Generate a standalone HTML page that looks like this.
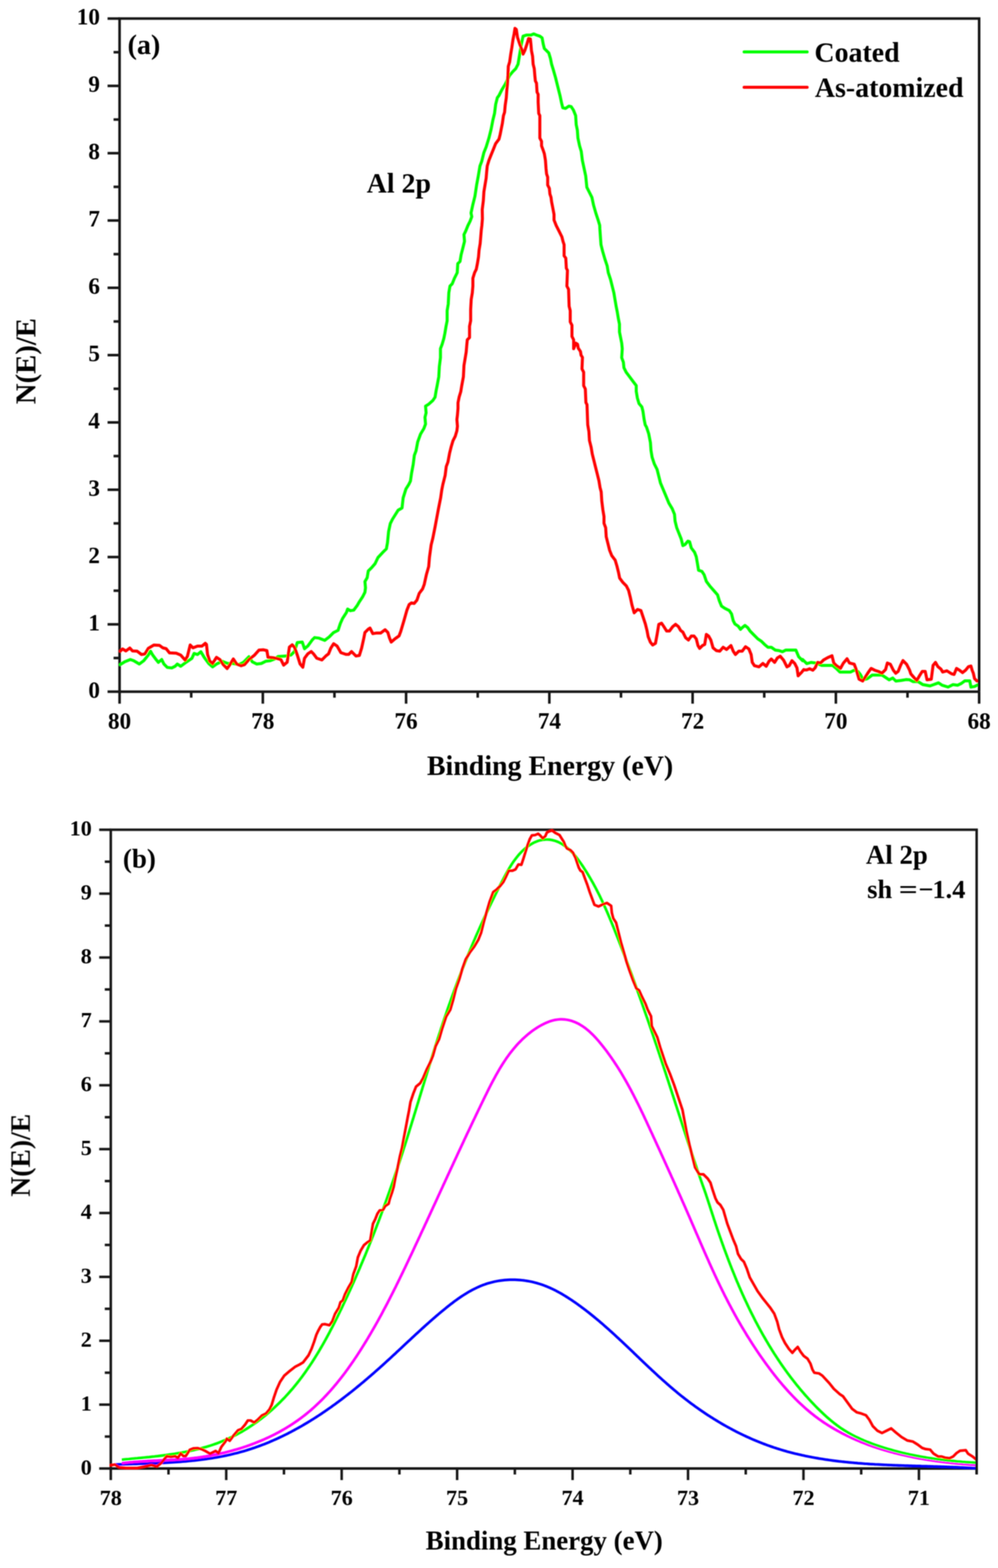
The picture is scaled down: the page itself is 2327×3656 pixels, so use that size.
<!DOCTYPE html><html><head><meta charset="utf-8"><title>Al 2p XPS spectra</title><style>html,body{margin:0;padding:0;background:#fff;}svg{display:block;}</style></head><body>
<svg width="2327" height="3656" viewBox="0 0 2327 3656" font-family="'Liberation Serif', 'Times New Roman', Times, serif" font-weight="bold">
<defs><filter id="soft" x="0" y="0" width="2327" height="3656" filterUnits="userSpaceOnUse"><feGaussianBlur stdDeviation="1.0"/></filter>
<clipPath id="ca"><rect x="270" y="0" width="2013" height="1700"/></clipPath>
<clipPath id="cb"><rect x="250" y="1900" width="2027.2" height="1600"/></clipPath></defs>
<rect width="2327" height="3656" fill="#fff"/>
<g filter="url(#soft)">
<path d="M278.8,1612.7 L278.8,43.3 L2283,43.3" fill="none" stroke="#181818" stroke-width="6.0" stroke-linejoin="miter" stroke-linecap="square"/>
<line x1="278.8" y1="1612.7" x2="2283" y2="1612.7" stroke="#181818" stroke-width="6.0"/>
<line x1="278.80" y1="1612.7" x2="278.80" y2="1640.7" stroke="#181818" stroke-width="6.0"/>
<text x="278.80" y="1698.8" font-size="54" text-anchor="middle">80</text>
<line x1="445.82" y1="1612.7" x2="445.82" y2="1626.7" stroke="#181818" stroke-width="6.0"/>
<line x1="612.83" y1="1612.7" x2="612.83" y2="1640.7" stroke="#181818" stroke-width="6.0"/>
<text x="612.83" y="1698.8" font-size="54" text-anchor="middle">78</text>
<line x1="779.85" y1="1612.7" x2="779.85" y2="1626.7" stroke="#181818" stroke-width="6.0"/>
<line x1="946.87" y1="1612.7" x2="946.87" y2="1640.7" stroke="#181818" stroke-width="6.0"/>
<text x="946.87" y="1698.8" font-size="54" text-anchor="middle">76</text>
<line x1="1113.88" y1="1612.7" x2="1113.88" y2="1626.7" stroke="#181818" stroke-width="6.0"/>
<line x1="1280.90" y1="1612.7" x2="1280.90" y2="1640.7" stroke="#181818" stroke-width="6.0"/>
<text x="1280.90" y="1698.8" font-size="54" text-anchor="middle">74</text>
<line x1="1447.92" y1="1612.7" x2="1447.92" y2="1626.7" stroke="#181818" stroke-width="6.0"/>
<line x1="1614.93" y1="1612.7" x2="1614.93" y2="1640.7" stroke="#181818" stroke-width="6.0"/>
<text x="1614.93" y="1698.8" font-size="54" text-anchor="middle">72</text>
<line x1="1781.95" y1="1612.7" x2="1781.95" y2="1626.7" stroke="#181818" stroke-width="6.0"/>
<line x1="1948.97" y1="1612.7" x2="1948.97" y2="1640.7" stroke="#181818" stroke-width="6.0"/>
<text x="1948.97" y="1698.8" font-size="54" text-anchor="middle">70</text>
<line x1="2115.98" y1="1612.7" x2="2115.98" y2="1626.7" stroke="#181818" stroke-width="6.0"/>
<line x1="2283.00" y1="1612.7" x2="2283.00" y2="1640.7" stroke="#181818" stroke-width="6.0"/>
<text x="2283.00" y="1698.8" font-size="54" text-anchor="middle">68</text>
<line x1="250.8" y1="1612.70" x2="278.8" y2="1612.70" stroke="#181818" stroke-width="6.0"/>
<text x="233" y="1626.70" font-size="54" text-anchor="end">0</text>
<line x1="264.8" y1="1534.23" x2="278.8" y2="1534.23" stroke="#181818" stroke-width="6.0"/>
<line x1="250.8" y1="1455.76" x2="278.8" y2="1455.76" stroke="#181818" stroke-width="6.0"/>
<text x="233" y="1469.76" font-size="54" text-anchor="end">1</text>
<line x1="264.8" y1="1377.29" x2="278.8" y2="1377.29" stroke="#181818" stroke-width="6.0"/>
<line x1="250.8" y1="1298.82" x2="278.8" y2="1298.82" stroke="#181818" stroke-width="6.0"/>
<text x="233" y="1312.82" font-size="54" text-anchor="end">2</text>
<line x1="264.8" y1="1220.35" x2="278.8" y2="1220.35" stroke="#181818" stroke-width="6.0"/>
<line x1="250.8" y1="1141.88" x2="278.8" y2="1141.88" stroke="#181818" stroke-width="6.0"/>
<text x="233" y="1155.88" font-size="54" text-anchor="end">3</text>
<line x1="264.8" y1="1063.41" x2="278.8" y2="1063.41" stroke="#181818" stroke-width="6.0"/>
<line x1="250.8" y1="984.94" x2="278.8" y2="984.94" stroke="#181818" stroke-width="6.0"/>
<text x="233" y="998.94" font-size="54" text-anchor="end">4</text>
<line x1="264.8" y1="906.47" x2="278.8" y2="906.47" stroke="#181818" stroke-width="6.0"/>
<line x1="250.8" y1="828.00" x2="278.8" y2="828.00" stroke="#181818" stroke-width="6.0"/>
<text x="233" y="842.00" font-size="54" text-anchor="end">5</text>
<line x1="264.8" y1="749.53" x2="278.8" y2="749.53" stroke="#181818" stroke-width="6.0"/>
<line x1="250.8" y1="671.06" x2="278.8" y2="671.06" stroke="#181818" stroke-width="6.0"/>
<text x="233" y="685.06" font-size="54" text-anchor="end">6</text>
<line x1="264.8" y1="592.59" x2="278.8" y2="592.59" stroke="#181818" stroke-width="6.0"/>
<line x1="250.8" y1="514.12" x2="278.8" y2="514.12" stroke="#181818" stroke-width="6.0"/>
<text x="233" y="528.12" font-size="54" text-anchor="end">7</text>
<line x1="264.8" y1="435.65" x2="278.8" y2="435.65" stroke="#181818" stroke-width="6.0"/>
<line x1="250.8" y1="357.18" x2="278.8" y2="357.18" stroke="#181818" stroke-width="6.0"/>
<text x="233" y="371.18" font-size="54" text-anchor="end">8</text>
<line x1="264.8" y1="278.71" x2="278.8" y2="278.71" stroke="#181818" stroke-width="6.0"/>
<line x1="250.8" y1="200.24" x2="278.8" y2="200.24" stroke="#181818" stroke-width="6.0"/>
<text x="233" y="214.24" font-size="54" text-anchor="end">9</text>
<line x1="264.8" y1="121.77" x2="278.8" y2="121.77" stroke="#181818" stroke-width="6.0"/>
<line x1="250.8" y1="43.30" x2="278.8" y2="43.30" stroke="#181818" stroke-width="6.0"/>
<text x="233" y="57.30" font-size="54" text-anchor="end">10</text>
<g clip-path="url(#ca)">
<path d="M280.4,1549.6 290.9,1543.1 303.9,1537.8 311.7,1540.5 324.8,1548.3 335.2,1540.5 345.7,1527.4 350.9,1518.3 356.1,1527.4 363.9,1537.8 369.2,1544.4 377.0,1537.8 382.2,1548.3 390.0,1556.1 400.5,1557.4 408.3,1553.5 413.5,1548.3 421.3,1553.5 431.8,1545.7 447.4,1535.2 452.6,1523.5 460.5,1526.1 468.3,1519.6 476.1,1532.6 486.6,1547.0 495.7,1554.8 504.8,1548.3 517.9,1541.8 524.4,1544.4 530.9,1547.0 544.0,1547.0 557.0,1549.6 567.5,1544.4 580.5,1531.3 588.3,1543.1 598.8,1548.3 609.2,1547.0 619.6,1541.8 630.1,1540.5 640.5,1536.5 648.3,1530.8 668.3,1529.6 678.7,1527.0 686.5,1519.2 693.1,1498.3 704.8,1497.0 710.0,1512.7 717.8,1506.1 728.3,1491.8 733.5,1486.6 743.9,1487.9 757.0,1493.1 767.4,1485.3 777.9,1474.8 788.3,1469.6 793.5,1453.9 798.7,1442.2 807.9,1427.9 810.5,1420.0 817.0,1423.9 824.8,1422.6 832.6,1412.2 837.9,1403.1 845.7,1391.3 850.9,1380.9 852.2,1370.5 850.9,1356.1 856.1,1347.0 858.7,1331.3 866.6,1323.5 874.4,1314.4 881.3,1300.0 891.7,1288.8 900.9,1279.6 903.5,1265.3 906.1,1239.2 910.0,1220.9 915.2,1210.5 928.3,1189.6 937.4,1184.4 940.0,1160.9 946.5,1140.1 953.1,1129.6 957.0,1121.8 959.6,1103.5 963.5,1082.6 966.1,1061.8 970.0,1051.3 973.9,1030.5 980.5,1012.2 988.3,999.2 992.2,988.7 990.9,973.1 993.5,962.6 992.2,947.0 998.7,943.1 1009.2,933.9 1014.4,926.1 1017.0,910.4 1019.1,900.0 1023.1,878.3 1024.4,854.9 1027.0,834.0 1027.0,813.1 1030.9,802.7 1034.8,789.6 1037.4,776.6 1040.0,760.9 1042.6,747.9 1042.6,724.4 1045.2,708.7 1046.5,682.6 1049.2,667.0 1054.4,661.8 1059.6,648.7 1066.1,635.7 1067.4,614.8 1072.6,609.6 1075.2,593.9 1079.2,578.3 1083.1,562.6 1081.8,547.0 1085.7,539.1 1090.9,526.1 1096.1,515.7 1100.0,505.2 1098.3,496.6 1102.2,478.4 1107.4,457.5 1111.3,431.4 1115.2,410.5 1119.1,387.0 1123.1,376.6 1128.3,355.7 1133.5,342.7 1140.0,321.8 1145.2,300.9 1149.2,280.1 1153.1,264.4 1155.7,243.5 1159.6,227.9 1163.5,222.6 1170.0,209.6 1177.9,196.6 1183.1,186.1 1188.3,175.7 1194.8,167.9 1202.6,160.0 1207.9,149.6 1210.5,133.9 1213.1,118.3 1215.7,102.6 1219.6,84.4 1227.4,81.7 1237.9,81.7 1244.4,79.1 1250.9,81.7 1258.7,84.4 1264.0,88.3 1266.6,102.6 1269.2,113.1 1274.4,118.3 1279.6,123.5 1283.5,136.5 1286.1,149.6 1290.1,162.6 1295.3,180.9 1300.5,201.8 1305.7,222.6 1309.6,240.9 1312.2,251.4 1318.8,252.7 1326.6,247.4 1331.8,248.7 1337.0,256.6 1342.2,269.6 1343.5,290.5 1346.2,303.5 1347.5,321.8 1351.4,340.1 1355.3,353.1 1357.9,374.0 1361.8,392.3 1365.7,410.5 1368.3,436.6 1373.5,447.0 1380.1,460.1 1384.0,478.4 1389.2,496.6 1394.4,512.3 1398.3,525.3 1398.7,533.9 1400.0,552.2 1401.3,570.5 1405.2,586.1 1410.5,604.4 1415.7,620.0 1418.3,635.7 1423.5,651.3 1427.4,667.0 1431.3,682.6 1433.9,698.3 1436.6,714.0 1439.2,727.0 1441.8,742.7 1444.4,755.7 1444.4,774.0 1447.0,787.0 1449.6,800.1 1450.9,813.1 1449.6,834.0 1453.5,844.4 1454.8,857.5 1460.0,867.9 1467.9,878.3 1475.7,888.8 1483.5,899.2 1483.5,912.3 1486.1,927.9 1490.0,941.0 1496.6,948.8 1499.2,959.2 1501.8,977.5 1504.4,990.5 1507.4,995.7 1512.6,1011.3 1516.6,1032.2 1517.9,1050.5 1520.5,1066.1 1525.7,1081.8 1532.2,1094.8 1536.1,1110.5 1540.0,1126.1 1546.6,1141.8 1553.1,1157.4 1559.6,1173.1 1567.4,1186.1 1572.7,1199.2 1574.0,1214.8 1577.9,1230.5 1583.1,1243.5 1588.3,1256.6 1592.2,1272.2 1597.4,1269.6 1604.0,1261.8 1607.9,1263.1 1611.8,1277.5 1619.6,1287.9 1623.5,1298.3 1626.2,1314.0 1628.8,1329.6 1636.6,1332.3 1641.8,1340.1 1647.0,1355.7 1654.9,1366.2 1664.0,1376.6 1673.1,1387.0 1677.0,1400.1 1682.3,1413.1 1690.1,1418.4 1700.5,1423.6 1705.7,1431.4 1709.6,1447.1 1713.6,1454.9 1721.4,1460.1 1726.6,1467.4 1730.5,1463.5 1737.0,1458.3 1743.5,1463.5 1748.8,1471.3 1756.6,1479.2 1767.0,1489.6 1774.8,1494.8 1782.7,1502.6 1790.5,1509.2 1798.3,1509.2 1807.5,1515.7 1816.6,1517.0 1824.4,1519.6 1832.3,1515.7 1845.3,1515.7 1855.7,1515.7 1862.3,1531.3 1871.4,1540.5 1871.2,1537.4 1881.0,1547.3 1890.9,1544.5 1902.1,1545.9 1916.1,1551.5 1930.1,1551.5 1941.3,1551.5 1949.8,1558.5 1958.2,1566.9 1972.2,1566.9 1983.4,1566.9 1991.8,1562.7 2000.2,1565.5 2005.9,1572.5 2012.9,1585.1 2022.7,1582.3 2033.9,1573.9 2045.1,1573.9 2056.3,1573.9 2064.8,1579.5 2073.2,1585.1 2081.6,1580.9 2088.6,1587.9 2101.2,1586.5 2112.4,1584.6 2120.9,1585.1 2129.3,1589.3 2140.5,1589.3 2151.7,1596.3 2160.1,1597.7 2168.5,1599.2 2177.0,1596.3 2188.2,1592.1 2196.6,1597.7 2210.6,1602.0 2221.8,1596.3 2233.1,1597.7 2241.5,1593.5 2249.9,1587.4 2261.1,1587.4 2263.9,1602.0 2272.3,1600.6 2280.7,1596.3 2283.5,1594.9" fill="none" stroke="#00ff00" stroke-width="7.0" stroke-linejoin="round" stroke-linecap="round"/>
<path d="M280.4,1518.3 285.7,1513.1 293.5,1517.8 302.6,1511.0 309.1,1517.8 319.6,1518.3 330.0,1526.1 337.8,1524.8 345.7,1511.8 358.7,1503.9 371.8,1504.7 379.6,1510.5 387.4,1512.5 395.2,1522.2 410.9,1523.0 421.3,1527.4 431.8,1539.2 437.0,1530.0 443.5,1503.9 450.0,1510.5 460.5,1506.5 470.9,1506.5 478.7,1500.0 481.4,1502.6 484.0,1526.1 489.2,1541.8 495.7,1547.0 504.8,1532.6 512.7,1537.8 520.5,1549.6 529.6,1558.7 536.1,1549.6 544.0,1536.5 551.8,1548.3 562.2,1552.2 570.1,1549.6 580.5,1537.8 593.5,1527.4 604.0,1515.7 614.4,1515.1 622.3,1517.0 624.9,1532.6 635.3,1533.4 645.7,1535.2 654.9,1537.8 661.4,1550.9 669.6,1544.0 674.8,1508.7 681.3,1503.5 686.5,1508.7 693.1,1527.0 699.6,1547.9 706.1,1555.7 710.0,1534.8 717.8,1524.4 725.7,1519.2 730.9,1524.4 738.7,1534.8 750.5,1538.7 759.6,1529.6 766.1,1524.4 771.3,1511.4 777.9,1500.9 785.7,1506.1 794.8,1521.8 806.6,1525.7 813.1,1525.7 819.6,1519.2 824.8,1524.4 830.0,1529.6 837.9,1528.3 843.1,1511.4 848.3,1487.9 850.9,1474.8 858.7,1467.0 862.7,1464.4 869.2,1477.4 877.0,1476.1 887.4,1476.1 897.9,1468.3 904.4,1474.8 908.3,1487.9 912.2,1497.0 921.4,1489.2 930.5,1482.6 934.4,1472.2 942.2,1446.1 948.8,1422.6 954.0,1409.6 959.2,1405.7 965.7,1407.0 972.2,1399.2 977.5,1383.5 985.3,1373.1 989.2,1362.6 994.4,1339.1 999.6,1320.9 1001.3,1300.0 1005.3,1270.5 1009.2,1254.9 1014.4,1228.8 1018.3,1207.9 1022.2,1187.0 1027.4,1160.9 1030.0,1142.7 1032.6,1129.6 1037.9,1108.7 1040.5,1087.9 1044.4,1077.4 1048.3,1056.6 1052.2,1040.9 1056.1,1027.9 1061.4,1017.4 1065.3,1004.4 1066.6,993.9 1065.3,978.3 1066.6,967.8 1067.9,952.2 1067.9,939.1 1070.5,926.1 1074.4,913.0 1076.5,900.0 1080.5,878.3 1081.8,852.3 1084.4,836.6 1087.0,820.9 1088.3,805.3 1089.6,792.2 1094.8,787.0 1094.8,760.9 1097.4,747.9 1097.4,721.8 1098.7,698.3 1101.3,682.6 1102.6,667.0 1102.6,648.7 1106.6,635.7 1110.5,627.9 1113.1,614.8 1115.7,599.2 1117.0,583.5 1119.6,567.8 1120.9,552.2 1122.2,536.5 1123.5,526.1 1124.8,510.4 1124.4,488.8 1127.0,467.9 1128.3,447.0 1130.9,431.4 1133.5,415.7 1134.8,400.1 1136.1,387.0 1140.0,374.0 1145.2,360.9 1150.5,347.9 1155.7,334.8 1163.5,324.4 1166.1,314.0 1168.7,300.9 1171.3,287.9 1173.9,269.6 1176.5,261.8 1177.9,246.1 1180.5,227.9 1181.8,209.6 1183.1,196.6 1184.4,175.7 1185.2,154.8 1188.3,144.4 1190.9,126.1 1193.5,110.5 1196.1,92.2 1198.7,79.1 1200.8,66.1 1203.9,68.7 1206.6,87.0 1211.8,102.6 1215.7,113.1 1219.6,126.1 1223.5,118.3 1228.7,102.6 1232.6,89.6 1236.6,90.9 1237.9,102.6 1239.2,118.3 1241.8,131.3 1243.1,149.6 1245.7,160.0 1247.0,175.7 1248.3,188.7 1250.9,193.9 1252.2,214.8 1254.8,220.0 1254.8,238.3 1256.1,264.4 1258.7,269.6 1258.7,287.9 1258.7,300.9 1258.7,321.8 1262.7,329.6 1262.7,340.1 1266.6,350.5 1269.2,358.3 1271.8,374.0 1273.1,392.3 1274.4,405.3 1277.0,413.1 1277.0,431.4 1280.9,439.2 1282.2,452.3 1284.8,460.1 1286.1,470.5 1288.7,483.6 1291.8,500.0 1291.8,513.0 1297.0,526.1 1303.6,539.1 1310.1,552.2 1312.7,562.6 1315.3,570.5 1315.3,596.5 1319.2,601.8 1320.5,625.2 1323.1,630.5 1321.8,667.0 1325.7,674.8 1327.0,714.0 1329.6,724.4 1329.6,750.5 1333.6,758.3 1333.6,784.4 1337.5,792.2 1337.5,813.1 1342.7,800.1 1346.6,802.7 1348.3,811.8 1353.5,819.6 1354.8,828.1 1358.1,833.3 1357.0,860.1 1360.9,867.9 1360.9,899.2 1364.8,907.0 1366.1,938.4 1368.7,943.6 1370.0,980.1 1370.4,990.4 1373.1,1006.1 1374.4,1027.0 1378.3,1042.6 1380.9,1058.3 1384.8,1073.9 1388.7,1089.6 1392.6,1105.2 1396.5,1120.9 1399.1,1136.6 1401.8,1147.0 1403.1,1167.9 1405.7,1188.7 1408.3,1204.4 1408.3,1220.1 1412.2,1230.5 1413.5,1251.4 1417.4,1267.0 1421.3,1282.7 1426.5,1295.7 1434.4,1306.2 1438.3,1319.2 1442.2,1334.9 1444.8,1347.9 1452.6,1358.3 1460.5,1366.2 1465.7,1376.6 1469.6,1392.3 1473.5,1410.5 1478.7,1428.8 1486.6,1421.0 1494.4,1423.6 1499.6,1439.2 1504.8,1454.9 1508.7,1470.5 1508.7,1470.5 1511.3,1484.4 1516.5,1497.4 1521.7,1503.9 1528.3,1500.0 1532.2,1479.2 1536.1,1455.7 1542.6,1453.1 1547.8,1460.9 1554.4,1471.3 1560.9,1471.3 1568.7,1460.9 1575.2,1455.7 1581.8,1460.9 1587.0,1470.0 1592.2,1473.9 1598.7,1487.0 1605.2,1492.2 1611.8,1483.1 1618.3,1483.1 1623.5,1489.6 1627.4,1505.2 1631.3,1511.8 1637.9,1505.2 1643.1,1502.6 1647.0,1479.2 1652.2,1483.1 1657.4,1492.2 1662.6,1510.5 1670.5,1517.0 1678.3,1518.3 1686.1,1509.2 1694.0,1514.4 1704.4,1505.2 1709.6,1518.3 1714.8,1526.1 1722.7,1518.3 1730.5,1518.3 1738.3,1507.9 1746.1,1513.1 1751.4,1526.1 1754.0,1544.4 1759.2,1552.2 1769.6,1554.8 1778.8,1547.0 1786.6,1553.5 1793.1,1541.8 1798.3,1536.6 1806.2,1544.4 1812.7,1533.9 1819.2,1530.0 1827.0,1539.2 1834.9,1554.8 1840.1,1552.2 1846.6,1540.5 1853.1,1547.0 1858.3,1557.4 1861.0,1575.7 1868.8,1567.9 1874.0,1561.3 1874.0,1562.1 1881.0,1562.1 1888.0,1559.3 1895.1,1562.7 1900.7,1557.1 1906.3,1544.5 1913.3,1545.9 1920.3,1538.8 1930.1,1533.2 1939.9,1529.0 1944.1,1545.9 1949.8,1551.5 1959.6,1558.5 1966.6,1545.9 1975.0,1536.0 1980.6,1545.9 1991.8,1548.7 1996.0,1559.9 2000.2,1573.9 2003.1,1583.7 2011.5,1587.9 2017.1,1579.5 2024.1,1568.3 2031.1,1558.5 2039.5,1562.7 2047.9,1565.5 2056.3,1569.7 2064.8,1561.3 2069.0,1545.9 2076.0,1548.7 2083.0,1562.7 2088.6,1569.7 2094.2,1565.5 2099.8,1551.5 2105.4,1540.2 2113.8,1548.7 2120.9,1562.7 2123.7,1571.1 2132.1,1580.9 2137.7,1586.5 2143.3,1576.7 2150.3,1565.5 2157.3,1565.5 2161.5,1585.1 2171.4,1583.7 2175.6,1551.5 2181.2,1544.5 2186.8,1554.3 2193.8,1559.9 2198.0,1566.9 2207.8,1564.1 2219.0,1571.1 2224.6,1572.5 2230.3,1558.5 2237.3,1562.7 2244.3,1568.3 2251.3,1562.7 2258.3,1554.3 2263.9,1552.9 2266.7,1562.7 2269.5,1569.7 2272.3,1582.3 2277.9,1587.9 2283.5,1586.5" fill="none" stroke="#ff0000" stroke-width="7.0" stroke-linejoin="round" stroke-linecap="round"/>
</g>
<line x1="2283" y1="43.3" x2="2283" y2="1612.7" stroke="#181818" stroke-width="6.0" stroke-linecap="butt"/>
<text x="1282.6" text-anchor="middle" y="1806.5" font-size="65">Binding Energy (eV)</text>
<text transform="translate(82.5,842) rotate(-90)" font-size="67" text-anchor="middle">N(E)/E</text>
<text x="297.5" y="126" font-size="65.5">(a)</text>
<text x="855" y="449" font-size="65">Al 2p</text>
<line x1="1735" y1="121" x2="1882" y2="121" stroke="#00ff00" stroke-width="7.0" stroke-linecap="round"/>
<line x1="1735" y1="203.5" x2="1882" y2="203.5" stroke="#ff0000" stroke-width="7.0" stroke-linecap="round"/>
<text x="1899" y="144" font-size="65">Coated</text>
<text x="1900" y="226" font-size="65">As-atomized</text>
<path d="M258.3,3424 L258.3,1934.7 L2277.2,1934.7" fill="none" stroke="#181818" stroke-width="5.8" stroke-linejoin="miter" stroke-linecap="square"/>
<line x1="258.3" y1="3424" x2="2277.2" y2="3424" stroke="#181818" stroke-width="5.8"/>
<line x1="258.30" y1="3424" x2="258.30" y2="3451" stroke="#181818" stroke-width="5.8"/>
<text x="258.30" y="3508.8" font-size="51.5" text-anchor="middle">78</text>
<line x1="392.89" y1="3424" x2="392.89" y2="3438" stroke="#181818" stroke-width="5.8"/>
<line x1="527.49" y1="3424" x2="527.49" y2="3451" stroke="#181818" stroke-width="5.8"/>
<text x="527.49" y="3508.8" font-size="51.5" text-anchor="middle">77</text>
<line x1="662.08" y1="3424" x2="662.08" y2="3438" stroke="#181818" stroke-width="5.8"/>
<line x1="796.67" y1="3424" x2="796.67" y2="3451" stroke="#181818" stroke-width="5.8"/>
<text x="796.67" y="3508.8" font-size="51.5" text-anchor="middle">76</text>
<line x1="931.27" y1="3424" x2="931.27" y2="3438" stroke="#181818" stroke-width="5.8"/>
<line x1="1065.86" y1="3424" x2="1065.86" y2="3451" stroke="#181818" stroke-width="5.8"/>
<text x="1065.86" y="3508.8" font-size="51.5" text-anchor="middle">75</text>
<line x1="1200.45" y1="3424" x2="1200.45" y2="3438" stroke="#181818" stroke-width="5.8"/>
<line x1="1335.05" y1="3424" x2="1335.05" y2="3451" stroke="#181818" stroke-width="5.8"/>
<text x="1335.05" y="3508.8" font-size="51.5" text-anchor="middle">74</text>
<line x1="1469.64" y1="3424" x2="1469.64" y2="3438" stroke="#181818" stroke-width="5.8"/>
<line x1="1604.23" y1="3424" x2="1604.23" y2="3451" stroke="#181818" stroke-width="5.8"/>
<text x="1604.23" y="3508.8" font-size="51.5" text-anchor="middle">73</text>
<line x1="1738.83" y1="3424" x2="1738.83" y2="3438" stroke="#181818" stroke-width="5.8"/>
<line x1="1873.42" y1="3424" x2="1873.42" y2="3451" stroke="#181818" stroke-width="5.8"/>
<text x="1873.42" y="3508.8" font-size="51.5" text-anchor="middle">72</text>
<line x1="2008.01" y1="3424" x2="2008.01" y2="3438" stroke="#181818" stroke-width="5.8"/>
<line x1="2142.61" y1="3424" x2="2142.61" y2="3451" stroke="#181818" stroke-width="5.8"/>
<text x="2142.61" y="3508.8" font-size="51.5" text-anchor="middle">71</text>
<line x1="2277.20" y1="3424" x2="2277.20" y2="3438" stroke="#181818" stroke-width="5.8"/>
<line x1="231.3" y1="3424.00" x2="258.3" y2="3424.00" stroke="#181818" stroke-width="5.8"/>
<text x="214" y="3437.50" font-size="51.5" text-anchor="end">0</text>
<line x1="244.3" y1="3349.53" x2="258.3" y2="3349.53" stroke="#181818" stroke-width="5.8"/>
<line x1="231.3" y1="3275.07" x2="258.3" y2="3275.07" stroke="#181818" stroke-width="5.8"/>
<text x="214" y="3288.57" font-size="51.5" text-anchor="end">1</text>
<line x1="244.3" y1="3200.61" x2="258.3" y2="3200.61" stroke="#181818" stroke-width="5.8"/>
<line x1="231.3" y1="3126.14" x2="258.3" y2="3126.14" stroke="#181818" stroke-width="5.8"/>
<text x="214" y="3139.64" font-size="51.5" text-anchor="end">2</text>
<line x1="244.3" y1="3051.68" x2="258.3" y2="3051.68" stroke="#181818" stroke-width="5.8"/>
<line x1="231.3" y1="2977.21" x2="258.3" y2="2977.21" stroke="#181818" stroke-width="5.8"/>
<text x="214" y="2990.71" font-size="51.5" text-anchor="end">3</text>
<line x1="244.3" y1="2902.74" x2="258.3" y2="2902.74" stroke="#181818" stroke-width="5.8"/>
<line x1="231.3" y1="2828.28" x2="258.3" y2="2828.28" stroke="#181818" stroke-width="5.8"/>
<text x="214" y="2841.78" font-size="51.5" text-anchor="end">4</text>
<line x1="244.3" y1="2753.82" x2="258.3" y2="2753.82" stroke="#181818" stroke-width="5.8"/>
<line x1="231.3" y1="2679.35" x2="258.3" y2="2679.35" stroke="#181818" stroke-width="5.8"/>
<text x="214" y="2692.85" font-size="51.5" text-anchor="end">5</text>
<line x1="244.3" y1="2604.89" x2="258.3" y2="2604.89" stroke="#181818" stroke-width="5.8"/>
<line x1="231.3" y1="2530.42" x2="258.3" y2="2530.42" stroke="#181818" stroke-width="5.8"/>
<text x="214" y="2543.92" font-size="51.5" text-anchor="end">6</text>
<line x1="244.3" y1="2455.95" x2="258.3" y2="2455.95" stroke="#181818" stroke-width="5.8"/>
<line x1="231.3" y1="2381.49" x2="258.3" y2="2381.49" stroke="#181818" stroke-width="5.8"/>
<text x="214" y="2394.99" font-size="51.5" text-anchor="end">7</text>
<line x1="244.3" y1="2307.03" x2="258.3" y2="2307.03" stroke="#181818" stroke-width="5.8"/>
<line x1="231.3" y1="2232.56" x2="258.3" y2="2232.56" stroke="#181818" stroke-width="5.8"/>
<text x="214" y="2246.06" font-size="51.5" text-anchor="end">8</text>
<line x1="244.3" y1="2158.10" x2="258.3" y2="2158.10" stroke="#181818" stroke-width="5.8"/>
<line x1="231.3" y1="2083.63" x2="258.3" y2="2083.63" stroke="#181818" stroke-width="5.8"/>
<text x="214" y="2097.13" font-size="51.5" text-anchor="end">9</text>
<line x1="244.3" y1="2009.17" x2="258.3" y2="2009.17" stroke="#181818" stroke-width="5.8"/>
<line x1="231.3" y1="1934.70" x2="258.3" y2="1934.70" stroke="#181818" stroke-width="5.8"/>
<text x="214" y="1948.20" font-size="51.5" text-anchor="end">10</text>
<g clip-path="url(#cb)">
<path d="M269.8,3414.7 273.7,3414.5 277.7,3414.4 281.7,3414.3 285.7,3414.2 289.7,3414.1 293.7,3414.0 297.7,3413.8 301.7,3413.7 305.7,3413.6 309.7,3413.5 313.7,3413.4 317.7,3413.3 321.6,3413.2 325.6,3413.0 329.6,3412.9 333.6,3412.8 337.6,3412.7 341.6,3412.5 345.6,3412.4 349.6,3412.2 353.6,3412.1 357.6,3411.9 361.6,3411.8 365.5,3411.6 369.5,3411.4 373.5,3411.2 377.5,3411.0 381.5,3410.8 385.5,3410.6 389.5,3410.4 393.5,3410.2 397.5,3409.9 401.4,3409.7 405.4,3409.4 409.4,3409.2 413.4,3408.9 417.4,3408.6 421.4,3408.3 425.3,3408.0 429.3,3407.6 433.3,3407.3 437.3,3406.9 441.2,3406.5 445.2,3406.1 449.2,3405.7 453.2,3405.3 457.1,3404.9 461.1,3404.4 465.1,3403.9 469.0,3403.4 473.0,3402.9 477.0,3402.4 480.9,3401.9 484.9,3401.3 488.8,3400.7 492.8,3400.1 496.7,3399.5 500.6,3398.8 504.6,3398.1 508.5,3397.4 512.4,3396.7 516.4,3396.0 520.3,3395.2 524.2,3394.4 528.1,3393.6 532.0,3392.8 535.9,3391.9 539.8,3391.0 543.7,3390.1 547.6,3389.1 551.4,3388.2 555.3,3387.2 559.2,3386.1 563.0,3385.1 566.9,3384.0 570.7,3382.9 574.5,3381.7 578.3,3380.5 582.1,3379.3 585.9,3378.1 589.7,3376.8 593.5,3375.6 597.3,3374.2 601.0,3372.9 604.8,3371.5 608.5,3370.1 612.3,3368.7 616.0,3367.3 619.7,3365.8 623.4,3364.3 627.1,3362.8 630.8,3361.2 634.4,3359.6 638.1,3358.0 641.8,3356.4 645.4,3354.8 649.0,3353.1 652.6,3351.4 656.2,3349.7 659.8,3348.0 663.4,3346.2 667.0,3344.5 670.6,3342.7 674.1,3340.8 677.7,3339.0 681.2,3337.1 684.7,3335.3 688.2,3333.3 691.7,3331.4 695.2,3329.5 698.7,3327.5 702.2,3325.6 705.6,3323.6 709.1,3321.5 712.5,3319.5 716.0,3317.5 719.4,3315.4 722.8,3313.3 726.2,3311.2 729.6,3309.1 732.9,3307.0 736.3,3304.8 739.7,3302.6 743.0,3300.5 746.3,3298.3 749.7,3296.1 753.0,3293.8 756.3,3291.6 759.6,3289.3 762.9,3287.1 766.1,3284.8 769.4,3282.5 772.7,3280.2 775.9,3277.8 779.2,3275.5 782.4,3273.2 785.6,3270.8 788.8,3268.4 792.0,3266.0 795.2,3263.7 798.4,3261.2 801.6,3258.8 804.7,3256.4 807.9,3253.9 811.1,3251.5 814.2,3249.0 817.3,3246.6 820.5,3244.1 823.6,3241.6 826.7,3239.1 829.8,3236.6 832.9,3234.0 836.0,3231.5 839.1,3229.0 842.1,3226.4 845.2,3223.9 848.3,3221.3 851.3,3218.7 854.4,3216.1 857.4,3213.5 860.4,3210.9 863.5,3208.3 866.5,3205.7 869.5,3203.1 872.5,3200.5 875.5,3197.8 878.5,3195.2 881.5,3192.5 884.5,3189.9 887.4,3187.2 890.4,3184.6 893.4,3181.9 896.3,3179.2 899.3,3176.5 902.2,3173.8 905.2,3171.1 908.1,3168.4 911.1,3165.7 914.0,3163.0 916.9,3160.3 919.9,3157.6 922.8,3154.9 925.7,3152.1 928.6,3149.4 931.5,3146.7 934.5,3144.0 937.4,3141.2 940.3,3138.5 943.2,3135.8 946.1,3133.1 949.1,3130.3 952.0,3127.6 954.9,3124.9 957.8,3122.2 960.7,3119.4 963.7,3116.7 966.6,3114.0 969.5,3111.3 972.5,3108.6 975.4,3105.9 978.3,3103.2 981.3,3100.5 984.2,3097.8 987.2,3095.1 990.2,3092.4 993.1,3089.8 996.1,3087.1 999.1,3084.5 1002.1,3081.8 1005.1,3079.2 1008.1,3076.5 1011.1,3073.9 1014.1,3071.3 1017.1,3068.7 1020.2,3066.1 1023.2,3063.5 1026.3,3060.9 1029.3,3058.4 1032.4,3055.8 1035.5,3053.3 1038.6,3050.8 1041.7,3048.2 1044.8,3045.8 1047.9,3043.3 1051.1,3040.8 1054.3,3038.4 1057.4,3036.0 1060.7,3033.6 1063.9,3031.3 1067.1,3028.9 1070.4,3026.7 1073.7,3024.4 1077.0,3022.2 1080.4,3020.0 1083.7,3017.9 1087.1,3015.8 1090.6,3013.7 1094.0,3011.7 1097.5,3009.7 1101.0,3007.8 1104.5,3006.0 1108.1,3004.2 1111.7,3002.5 1115.3,3000.8 1119.0,2999.2 1122.7,2997.7 1126.4,2996.2 1130.2,2994.8 1133.9,2993.5 1137.7,2992.3 1141.6,2991.2 1145.4,2990.2 1149.3,2989.2 1153.2,2988.3 1157.1,2987.5 1161.0,2986.8 1165.0,2986.1 1168.9,2985.6 1172.9,2985.1 1176.9,2984.7 1180.8,2984.4 1184.8,2984.1 1188.8,2983.9 1192.8,2983.9 1196.8,2983.9 1200.8,2983.9 1204.8,2984.1 1208.8,2984.3 1212.8,2984.6 1216.7,2985.0 1220.7,2985.4 1224.7,2986.0 1228.6,2986.6 1232.5,2987.3 1236.5,2988.0 1240.4,2988.8 1244.3,2989.7 1248.1,2990.7 1252.0,2991.8 1255.8,2992.9 1259.6,2994.1 1263.4,2995.3 1267.2,2996.7 1270.9,2998.1 1274.6,2999.5 1278.3,3001.1 1282.0,3002.7 1285.6,3004.3 1289.2,3006.0 1292.8,3007.8 1296.4,3009.6 1299.9,3011.5 1303.4,3013.4 1306.9,3015.3 1310.4,3017.3 1313.8,3019.3 1317.2,3021.4 1320.6,3023.5 1324.0,3025.6 1327.4,3027.8 1330.7,3030.0 1334.0,3032.2 1337.3,3034.5 1340.6,3036.7 1343.9,3039.0 1347.1,3041.3 1350.4,3043.7 1353.6,3046.0 1356.8,3048.4 1360.0,3050.8 1363.2,3053.2 1366.4,3055.6 1369.5,3058.1 1372.7,3060.5 1375.8,3063.0 1378.9,3065.5 1382.0,3068.0 1385.1,3070.5 1388.2,3073.1 1391.3,3075.6 1394.3,3078.2 1397.4,3080.7 1400.4,3083.3 1403.5,3085.9 1406.5,3088.5 1409.5,3091.2 1412.5,3093.8 1415.5,3096.5 1418.5,3099.1 1421.4,3101.8 1424.4,3104.4 1427.4,3107.1 1430.3,3109.8 1433.3,3112.5 1436.2,3115.2 1439.1,3117.9 1442.1,3120.6 1445.0,3123.4 1447.9,3126.1 1450.8,3128.8 1453.7,3131.6 1456.6,3134.3 1459.5,3137.1 1462.4,3139.8 1465.3,3142.6 1468.2,3145.3 1471.1,3148.1 1474.0,3150.8 1476.9,3153.6 1479.8,3156.4 1482.6,3159.1 1485.5,3161.9 1488.4,3164.6 1491.3,3167.4 1494.2,3170.2 1497.1,3172.9 1500.0,3175.7 1502.9,3178.4 1505.8,3181.2 1508.7,3183.9 1511.6,3186.7 1514.5,3189.4 1517.4,3192.1 1520.3,3194.9 1523.2,3197.6 1526.1,3200.3 1529.1,3203.0 1532.0,3205.7 1534.9,3208.4 1537.9,3211.1 1540.9,3213.8 1543.8,3216.5 1546.8,3219.1 1549.8,3221.8 1552.8,3224.4 1555.8,3227.1 1558.8,3229.7 1561.8,3232.3 1564.8,3234.9 1567.9,3237.5 1570.9,3240.1 1574.0,3242.7 1577.0,3245.2 1580.1,3247.8 1583.2,3250.3 1586.3,3252.8 1589.4,3255.3 1592.6,3257.8 1595.7,3260.2 1598.8,3262.7 1602.0,3265.1 1605.2,3267.6 1608.4,3270.0 1611.6,3272.4 1614.8,3274.7 1618.0,3277.1 1621.2,3279.4 1624.5,3281.8 1627.7,3284.1 1631.0,3286.4 1634.3,3288.6 1637.6,3290.9 1640.9,3293.1 1644.2,3295.4 1647.5,3297.6 1650.9,3299.8 1654.2,3301.9 1657.6,3304.1 1661.0,3306.2 1664.3,3308.3 1667.7,3310.4 1671.2,3312.5 1674.6,3314.6 1678.0,3316.6 1681.4,3318.7 1684.9,3320.7 1688.4,3322.7 1691.8,3324.6 1695.3,3326.6 1698.8,3328.5 1702.3,3330.4 1705.8,3332.3 1709.4,3334.2 1712.9,3336.0 1716.5,3337.9 1720.0,3339.7 1723.6,3341.5 1727.2,3343.2 1730.8,3345.0 1734.4,3346.7 1738.0,3348.4 1741.6,3350.1 1745.2,3351.7 1748.9,3353.4 1752.5,3355.0 1756.2,3356.6 1759.9,3358.1 1763.5,3359.7 1767.2,3361.2 1770.9,3362.7 1774.7,3364.2 1778.4,3365.6 1782.1,3367.0 1785.8,3368.4 1789.6,3369.8 1793.4,3371.2 1797.1,3372.5 1800.9,3373.8 1804.7,3375.1 1808.5,3376.3 1812.3,3377.6 1816.1,3378.7 1819.9,3379.9 1823.7,3381.1 1827.6,3382.2 1831.4,3383.3 1835.2,3384.4 1839.1,3385.4 1843.0,3386.4 1846.8,3387.4 1850.7,3388.4 1854.6,3389.4 1858.5,3390.3 1862.3,3391.2 1866.2,3392.1 1870.1,3393.0 1874.0,3393.8 1877.9,3394.7 1881.9,3395.5 1885.8,3396.3 1889.7,3397.0 1893.6,3397.8 1897.5,3398.5 1901.5,3399.2 1905.4,3399.9 1909.3,3400.6 1913.3,3401.2 1917.2,3401.8 1921.2,3402.5 1925.1,3403.1 1929.1,3403.6 1933.0,3404.2 1937.0,3404.8 1940.9,3405.3 1944.9,3405.8 1948.9,3406.3 1952.8,3406.8 1956.8,3407.3 1960.8,3407.7 1964.7,3408.2 1968.7,3408.6 1972.7,3409.0 1976.6,3409.4 1980.6,3409.8 1984.6,3410.2 1988.6,3410.5 1992.5,3410.9 1996.5,3411.2 2000.5,3411.6 2004.5,3411.9 2008.5,3412.2 2012.4,3412.5 2016.4,3412.8 2020.4,3413.0 2024.4,3413.3 2028.4,3413.6 2032.4,3413.8 2036.4,3414.0 2040.3,3414.3 2044.3,3414.5 2048.3,3414.7 2052.3,3414.9 2056.3,3415.1 2060.3,3415.3 2064.3,3415.5 2068.3,3415.7 2072.3,3415.8 2076.2,3416.0 2080.2,3416.2 2084.2,3416.3 2088.2,3416.5 2092.2,3416.6 2096.2,3416.8 2100.2,3416.9 2104.2,3417.0 2108.2,3417.2 2112.2,3417.3 2116.2,3417.4 2120.1,3417.6 2124.1,3417.7 2128.1,3417.8 2132.1,3417.9 2136.1,3418.0 2140.1,3418.1 2144.1,3418.2 2148.1,3418.4 2152.1,3418.5 2156.1,3418.6 2160.1,3418.7 2164.1,3418.8 2168.0,3418.9 2172.0,3419.0 2176.0,3419.2 2180.0,3419.3 2184.0,3419.4 2188.0,3419.5 2192.0,3419.6 2196.0,3419.8 2200.0,3419.9 2204.0,3420.0 2208.0,3420.2 2212.0,3420.3 2215.9,3420.5 2219.9,3420.6 2223.9,3420.8 2227.9,3420.9 2231.9,3421.1 2235.9,3421.3 2239.9,3421.5 2243.9,3421.7 2247.9,3421.9 2251.9,3422.1 2255.8,3422.3 2259.8,3422.5 2263.8,3422.7 2267.8,3423.0 2271.8,3423.2 2275.8,3423.5 2279.8,3423.7" fill="none" stroke="#0000ff" stroke-width="6.2" stroke-linejoin="round" stroke-linecap="butt"/>
<path d="M284.2,3411.3 288.2,3410.8 292.1,3410.4 296.1,3409.9 300.1,3409.5 304.1,3409.1 308.0,3408.8 312.0,3408.4 316.0,3408.1 320.0,3407.8 324.0,3407.6 328.0,3407.3 332.0,3407.1 335.9,3406.8 339.9,3406.6 343.9,3406.4 347.9,3406.2 351.9,3406.0 355.9,3405.8 359.9,3405.6 363.9,3405.5 367.9,3405.3 371.9,3405.1 375.9,3405.0 379.9,3404.8 383.9,3404.6 387.8,3404.4 391.8,3404.2 395.8,3404.0 399.8,3403.8 403.8,3403.6 407.8,3403.4 411.8,3403.1 415.8,3402.9 419.8,3402.6 423.7,3402.3 427.7,3402.0 431.7,3401.7 435.7,3401.3 439.7,3401.0 443.7,3400.5 447.6,3400.1 451.6,3399.7 455.6,3399.2 459.5,3398.7 463.5,3398.2 467.4,3397.6 471.4,3397.0 475.4,3396.4 479.3,3395.8 483.2,3395.1 487.2,3394.5 491.1,3393.7 495.0,3393.0 499.0,3392.3 502.9,3391.5 506.8,3390.7 510.7,3389.8 514.6,3389.0 518.5,3388.1 522.4,3387.2 526.3,3386.2 530.2,3385.3 534.0,3384.3 537.9,3383.3 541.7,3382.2 545.6,3381.1 549.4,3380.0 553.3,3378.9 557.1,3377.8 560.9,3376.6 564.7,3375.4 568.5,3374.1 572.3,3372.9 576.1,3371.6 579.9,3370.3 583.6,3368.9 587.4,3367.5 591.1,3366.1 594.9,3364.7 598.6,3363.2 602.3,3361.7 606.0,3360.2 609.7,3358.7 613.3,3357.1 617.0,3355.5 620.6,3353.8 624.3,3352.2 627.9,3350.5 631.5,3348.8 635.1,3347.0 638.7,3345.2 642.2,3343.4 645.8,3341.5 649.3,3339.7 652.8,3337.7 656.3,3335.8 659.8,3333.8 663.2,3331.8 666.7,3329.8 670.1,3327.7 673.5,3325.6 676.9,3323.5 680.2,3321.3 683.6,3319.1 686.9,3316.9 690.2,3314.7 693.5,3312.4 696.7,3310.1 699.9,3307.7 703.2,3305.3 706.3,3302.9 709.5,3300.5 712.6,3298.0 715.7,3295.5 718.8,3292.9 721.9,3290.4 724.9,3287.8 727.9,3285.1 730.9,3282.5 733.9,3279.8 736.8,3277.1 739.7,3274.3 742.6,3271.6 745.5,3268.8 748.3,3266.0 751.2,3263.2 754.0,3260.3 756.7,3257.4 759.5,3254.5 762.2,3251.6 764.9,3248.7 767.6,3245.7 770.3,3242.7 772.9,3239.7 775.5,3236.7 778.1,3233.7 780.7,3230.6 783.3,3227.6 785.8,3224.5 788.3,3221.4 790.8,3218.3 793.3,3215.1 795.8,3212.0 798.2,3208.8 800.7,3205.7 803.1,3202.5 805.5,3199.3 807.8,3196.0 810.2,3192.8 812.5,3189.6 814.8,3186.3 817.1,3183.1 819.4,3179.8 821.7,3176.5 824.0,3173.2 826.2,3169.9 828.4,3166.6 830.7,3163.3 832.9,3159.9 835.0,3156.6 837.2,3153.2 839.4,3149.9 841.5,3146.5 843.7,3143.1 845.8,3139.7 847.9,3136.3 850.0,3132.9 852.1,3129.5 854.2,3126.1 856.2,3122.7 858.3,3119.3 860.3,3115.8 862.4,3112.4 864.4,3109.0 866.4,3105.5 868.4,3102.0 870.4,3098.6 872.4,3095.1 874.4,3091.6 876.3,3088.2 878.3,3084.7 880.3,3081.2 882.2,3077.7 884.1,3074.2 886.0,3070.7 888.0,3067.2 889.9,3063.7 891.8,3060.1 893.6,3056.6 895.5,3053.1 897.4,3049.6 899.3,3046.0 901.1,3042.5 903.0,3039.0 904.8,3035.4 906.6,3031.9 908.5,3028.3 910.3,3024.7 912.1,3021.2 913.9,3017.6 915.7,3014.1 917.5,3010.5 919.3,3006.9 921.1,3003.3 922.9,2999.8 924.6,2996.2 926.4,2992.6 928.2,2989.0 929.9,2985.4 931.7,2981.8 933.4,2978.2 935.2,2974.6 936.9,2971.0 938.7,2967.4 940.4,2963.8 942.1,2960.2 943.9,2956.6 945.6,2953.0 947.3,2949.4 949.0,2945.8 950.7,2942.2 952.4,2938.6 954.1,2935.0 955.8,2931.4 957.6,2927.7 959.3,2924.1 961.0,2920.5 962.7,2916.9 964.4,2913.3 966.0,2909.7 967.7,2906.0 969.4,2902.4 971.1,2898.8 972.8,2895.2 974.5,2891.6 976.2,2887.9 977.9,2884.3 979.6,2880.7 981.2,2877.1 982.9,2873.4 984.6,2869.8 986.3,2866.2 988.0,2862.6 989.7,2858.9 991.3,2855.3 993.0,2851.7 994.7,2848.1 996.4,2844.4 998.0,2840.8 999.7,2837.2 1001.4,2833.5 1003.1,2829.9 1004.7,2826.3 1006.4,2822.6 1008.1,2819.0 1009.7,2815.4 1011.4,2811.8 1013.1,2808.1 1014.8,2804.5 1016.4,2800.9 1018.1,2797.2 1019.8,2793.6 1021.4,2790.0 1023.1,2786.3 1024.8,2782.7 1026.4,2779.1 1028.1,2775.5 1029.8,2771.8 1031.5,2768.2 1033.1,2764.6 1034.8,2760.9 1036.5,2757.3 1038.1,2753.7 1039.8,2750.0 1041.5,2746.4 1043.1,2742.8 1044.8,2739.1 1046.5,2735.5 1048.2,2731.9 1049.8,2728.3 1051.5,2724.6 1053.2,2721.0 1054.9,2717.4 1056.6,2713.8 1058.2,2710.1 1059.9,2706.5 1061.6,2702.9 1063.3,2699.2 1065.0,2695.6 1066.6,2692.0 1068.3,2688.4 1070.0,2684.8 1071.7,2681.1 1073.4,2677.5 1075.1,2673.9 1076.8,2670.3 1078.5,2666.6 1080.2,2663.0 1081.8,2659.4 1083.5,2655.8 1085.2,2652.2 1086.9,2648.6 1088.6,2644.9 1090.3,2641.3 1092.1,2637.7 1093.8,2634.1 1095.5,2630.5 1097.2,2626.9 1098.9,2623.3 1100.6,2619.6 1102.3,2616.0 1104.0,2612.4 1105.8,2608.8 1107.5,2605.2 1109.2,2601.6 1110.9,2598.0 1112.7,2594.4 1114.4,2590.8 1116.1,2587.2 1117.9,2583.6 1119.6,2580.0 1121.3,2576.4 1123.1,2572.8 1124.8,2569.2 1126.6,2565.6 1128.3,2562.0 1130.1,2558.4 1131.8,2554.8 1133.6,2551.3 1135.4,2547.7 1137.1,2544.1 1138.9,2540.5 1140.7,2536.9 1142.5,2533.4 1144.3,2529.8 1146.2,2526.3 1148.0,2522.7 1149.9,2519.2 1151.8,2515.7 1153.7,2512.2 1155.6,2508.6 1157.5,2505.2 1159.5,2501.7 1161.5,2498.2 1163.5,2494.8 1165.5,2491.3 1167.6,2487.9 1169.7,2484.5 1171.8,2481.1 1174.0,2477.7 1176.2,2474.4 1178.4,2471.1 1180.6,2467.8 1182.9,2464.5 1185.3,2461.3 1187.6,2458.0 1190.0,2454.8 1192.5,2451.7 1195.0,2448.6 1197.5,2445.5 1200.1,2442.4 1202.7,2439.4 1205.3,2436.4 1208.0,2433.4 1210.8,2430.5 1213.6,2427.7 1216.4,2424.9 1219.3,2422.1 1222.2,2419.4 1225.2,2416.7 1228.2,2414.1 1231.2,2411.5 1234.4,2409.0 1237.5,2406.5 1240.7,2404.1 1243.9,2401.8 1247.2,2399.5 1250.5,2397.3 1253.9,2395.1 1257.3,2393.1 1260.8,2391.1 1264.3,2389.2 1267.9,2387.4 1271.5,2385.7 1275.2,2384.1 1278.9,2382.6 1282.6,2381.2 1286.4,2380.1 1290.3,2379.0 1294.2,2378.1 1298.1,2377.5 1302.1,2377.0 1306.1,2376.7 1310.1,2376.6 1314.1,2376.8 1318.1,2377.2 1322.0,2377.7 1325.9,2378.5 1329.8,2379.5 1333.6,2380.6 1337.4,2382.0 1341.1,2383.4 1344.8,2385.1 1348.3,2386.8 1351.9,2388.8 1355.3,2390.8 1358.7,2393.0 1361.9,2395.2 1365.2,2397.6 1368.3,2400.1 1371.4,2402.6 1374.4,2405.2 1377.3,2407.9 1380.2,2410.7 1383.1,2413.5 1385.8,2416.4 1388.6,2419.3 1391.2,2422.3 1393.9,2425.3 1396.5,2428.3 1399.1,2431.4 1401.6,2434.5 1404.1,2437.6 1406.6,2440.7 1409.0,2443.9 1411.5,2447.0 1413.9,2450.2 1416.3,2453.4 1418.6,2456.7 1421.0,2459.9 1423.3,2463.2 1425.6,2466.4 1427.8,2469.7 1430.1,2473.0 1432.3,2476.3 1434.5,2479.7 1436.7,2483.0 1438.9,2486.4 1441.0,2489.7 1443.2,2493.1 1445.3,2496.5 1447.4,2499.9 1449.4,2503.3 1451.5,2506.8 1453.5,2510.2 1455.5,2513.7 1457.5,2517.1 1459.5,2520.6 1461.4,2524.1 1463.4,2527.6 1465.3,2531.1 1467.2,2534.6 1469.1,2538.1 1471.0,2541.6 1472.9,2545.2 1474.7,2548.7 1476.6,2552.2 1478.4,2555.8 1480.2,2559.4 1482.0,2562.9 1483.8,2566.5 1485.6,2570.1 1487.4,2573.6 1489.2,2577.2 1490.9,2580.8 1492.7,2584.4 1494.4,2588.0 1496.1,2591.6 1497.9,2595.2 1499.6,2598.8 1501.3,2602.4 1503.0,2606.1 1504.7,2609.7 1506.4,2613.3 1508.1,2616.9 1509.7,2620.5 1511.4,2624.2 1513.1,2627.8 1514.8,2631.4 1516.4,2635.1 1518.1,2638.7 1519.8,2642.3 1521.5,2646.0 1523.1,2649.6 1524.8,2653.2 1526.5,2656.8 1528.1,2660.5 1529.8,2664.1 1531.4,2667.7 1533.1,2671.4 1534.8,2675.0 1536.4,2678.6 1538.1,2682.3 1539.8,2685.9 1541.4,2689.6 1543.1,2693.2 1544.7,2696.8 1546.4,2700.5 1548.0,2704.1 1549.7,2707.7 1551.3,2711.4 1553.0,2715.0 1554.6,2718.7 1556.3,2722.3 1557.9,2725.9 1559.6,2729.6 1561.2,2733.2 1562.9,2736.9 1564.5,2740.5 1566.1,2744.2 1567.8,2747.8 1569.4,2751.5 1571.0,2755.1 1572.7,2758.8 1574.3,2762.4 1575.9,2766.0 1577.6,2769.7 1579.2,2773.3 1580.8,2777.0 1582.4,2780.7 1584.1,2784.3 1585.7,2788.0 1587.3,2791.6 1588.9,2795.3 1590.5,2798.9 1592.1,2802.6 1593.8,2806.2 1595.4,2809.9 1597.0,2813.6 1598.6,2817.2 1600.2,2820.9 1601.8,2824.5 1603.4,2828.2 1605.0,2831.9 1606.6,2835.5 1608.2,2839.2 1609.8,2842.9 1611.3,2846.5 1612.9,2850.2 1614.5,2853.9 1616.1,2857.5 1617.7,2861.2 1619.3,2864.9 1620.8,2868.5 1622.4,2872.2 1624.0,2875.9 1625.6,2879.5 1627.2,2883.2 1628.8,2886.9 1630.4,2890.6 1631.9,2894.2 1633.5,2897.9 1635.1,2901.6 1636.7,2905.2 1638.3,2908.9 1639.9,2912.5 1641.5,2916.2 1643.1,2919.9 1644.7,2923.5 1646.3,2927.2 1647.9,2930.8 1649.6,2934.5 1651.2,2938.1 1652.8,2941.8 1654.4,2945.4 1656.1,2949.1 1657.7,2952.7 1659.4,2956.4 1661.0,2960.0 1662.7,2963.6 1664.4,2967.3 1666.0,2970.9 1667.7,2974.5 1669.4,2978.1 1671.1,2981.8 1672.8,2985.4 1674.5,2989.0 1676.3,2992.6 1678.0,2996.2 1679.7,2999.8 1681.5,3003.4 1683.2,3007.0 1685.0,3010.6 1686.8,3014.1 1688.5,3017.7 1690.3,3021.3 1692.2,3024.9 1694.0,3028.4 1695.8,3032.0 1697.6,3035.5 1699.5,3039.1 1701.3,3042.6 1703.2,3046.1 1705.1,3049.7 1707.0,3053.2 1708.9,3056.7 1710.8,3060.2 1712.7,3063.7 1714.6,3067.2 1716.6,3070.7 1718.5,3074.2 1720.5,3077.7 1722.5,3081.1 1724.5,3084.6 1726.5,3088.1 1728.5,3091.5 1730.5,3095.0 1732.6,3098.4 1734.6,3101.8 1736.7,3105.2 1738.8,3108.7 1740.8,3112.1 1742.9,3115.5 1745.1,3118.9 1747.2,3122.2 1749.3,3125.6 1751.5,3129.0 1753.6,3132.4 1755.8,3135.7 1758.0,3139.1 1760.2,3142.4 1762.4,3145.7 1764.6,3149.1 1766.8,3152.4 1769.1,3155.7 1771.3,3159.0 1773.6,3162.3 1775.9,3165.5 1778.2,3168.8 1780.5,3172.1 1782.8,3175.3 1785.2,3178.6 1787.5,3181.8 1789.9,3185.0 1792.3,3188.2 1794.6,3191.4 1797.1,3194.6 1799.5,3197.8 1801.9,3201.0 1804.4,3204.1 1806.8,3207.3 1809.3,3210.4 1811.8,3213.5 1814.3,3216.6 1816.9,3219.7 1819.4,3222.8 1822.0,3225.8 1824.6,3228.9 1827.2,3231.9 1829.8,3234.9 1832.5,3237.9 1835.1,3240.9 1837.8,3243.9 1840.5,3246.8 1843.2,3249.7 1846.0,3252.6 1848.7,3255.5 1851.5,3258.4 1854.3,3261.2 1857.1,3264.1 1860.0,3266.9 1862.9,3269.7 1865.8,3272.4 1868.7,3275.1 1871.6,3277.8 1874.6,3280.5 1877.6,3283.2 1880.6,3285.8 1883.6,3288.4 1886.7,3291.0 1889.7,3293.5 1892.8,3296.1 1896.0,3298.5 1899.1,3301.0 1902.3,3303.4 1905.5,3305.8 1908.7,3308.2 1912.0,3310.5 1915.2,3312.8 1918.5,3315.1 1921.8,3317.3 1925.2,3319.5 1928.5,3321.7 1931.9,3323.8 1935.3,3325.9 1938.7,3328.0 1942.2,3330.0 1945.6,3332.1 1949.1,3334.0 1952.6,3336.0 1956.1,3337.9 1959.6,3339.8 1963.1,3341.7 1966.7,3343.5 1970.2,3345.3 1973.8,3347.1 1977.4,3348.8 1981.0,3350.5 1984.7,3352.2 1988.3,3353.9 1991.9,3355.5 1995.6,3357.1 1999.3,3358.7 2003.0,3360.2 2006.7,3361.8 2010.4,3363.3 2014.1,3364.7 2017.8,3366.2 2021.5,3367.6 2025.3,3369.0 2029.0,3370.3 2032.8,3371.7 2036.6,3373.0 2040.4,3374.3 2044.2,3375.5 2048.0,3376.8 2051.8,3378.0 2055.6,3379.2 2059.4,3380.3 2063.2,3381.5 2067.1,3382.6 2070.9,3383.7 2074.8,3384.8 2078.6,3385.8 2082.5,3386.8 2086.4,3387.9 2090.2,3388.8 2094.1,3389.8 2098.0,3390.8 2101.9,3391.7 2105.8,3392.6 2109.7,3393.5 2113.6,3394.3 2117.5,3395.2 2121.4,3396.0 2125.3,3396.8 2129.2,3397.6 2133.1,3398.4 2137.1,3399.1 2141.0,3399.9 2144.9,3400.6 2148.9,3401.3 2152.8,3402.0 2156.7,3402.6 2160.7,3403.3 2164.6,3403.9 2168.6,3404.5 2172.5,3405.1 2176.5,3405.7 2180.4,3406.3 2184.4,3406.8 2188.4,3407.3 2192.3,3407.9 2196.3,3408.4 2200.2,3408.9 2204.2,3409.3 2208.2,3409.8 2212.2,3410.2 2216.1,3410.7 2220.1,3411.1 2224.1,3411.5 2228.1,3411.9 2232.0,3412.3 2236.0,3412.6 2240.0,3413.0 2244.0,3413.3 2248.0,3413.7 2251.9,3414.0 2255.9,3414.3 2259.9,3414.6 2263.9,3414.9 2267.9,3415.2 2271.9,3415.4 2275.9,3415.7 2279.8,3415.9" fill="none" stroke="#ff00ff" stroke-width="6.2" stroke-linejoin="round" stroke-linecap="butt"/>
<path d="M284.1,3403.5 288.0,3403.1 292.0,3402.7 296.0,3402.3 300.0,3402.0 304.0,3401.6 307.9,3401.2 311.9,3400.8 315.9,3400.4 319.9,3400.1 323.8,3399.7 327.8,3399.3 331.8,3398.9 335.8,3398.5 339.7,3398.1 343.7,3397.7 347.7,3397.3 351.7,3396.8 355.6,3396.4 359.6,3396.0 363.6,3395.5 367.6,3395.1 371.5,3394.6 375.5,3394.1 379.5,3393.6 383.4,3393.1 387.4,3392.6 391.3,3392.0 395.3,3391.4 399.2,3390.9 403.2,3390.3 407.2,3389.7 411.1,3389.0 415.0,3388.4 419.0,3387.7 422.9,3387.0 426.8,3386.3 430.8,3385.6 434.7,3384.8 438.6,3384.0 442.5,3383.2 446.4,3382.3 450.3,3381.5 454.2,3380.6 458.1,3379.6 462.0,3378.7 465.9,3377.7 469.7,3376.7 473.6,3375.6 477.4,3374.5 481.3,3373.4 485.1,3372.3 488.9,3371.1 492.7,3369.9 496.5,3368.6 500.3,3367.3 504.1,3366.0 507.8,3364.6 511.5,3363.2 515.3,3361.7 519.0,3360.2 522.7,3358.7 526.3,3357.1 530.0,3355.5 533.6,3353.8 537.2,3352.1 540.8,3350.4 544.4,3348.6 548.0,3346.8 551.5,3345.0 555.0,3343.1 558.5,3341.1 562.0,3339.2 565.5,3337.2 568.9,3335.1 572.3,3333.1 575.7,3331.0 579.1,3328.8 582.5,3326.7 585.8,3324.5 589.1,3322.2 592.4,3320.0 595.7,3317.7 598.9,3315.4 602.2,3313.0 605.4,3310.6 608.6,3308.2 611.7,3305.8 614.9,3303.3 618.0,3300.8 621.1,3298.3 624.1,3295.7 627.2,3293.1 630.2,3290.5 633.2,3287.9 636.2,3285.2 639.2,3282.5 642.1,3279.8 645.0,3277.1 647.9,3274.3 650.8,3271.5 653.6,3268.7 656.4,3265.9 659.2,3263.0 662.0,3260.2 664.8,3257.3 667.5,3254.3 670.2,3251.4 672.9,3248.4 675.5,3245.4 678.1,3242.4 680.8,3239.4 683.3,3236.4 685.9,3233.3 688.4,3230.2 691.0,3227.1 693.4,3224.0 695.9,3220.8 698.4,3217.7 700.8,3214.5 703.2,3211.3 705.6,3208.1 707.9,3204.9 710.3,3201.6 712.6,3198.4 714.9,3195.1 717.2,3191.8 719.4,3188.5 721.7,3185.2 723.9,3181.9 726.1,3178.6 728.3,3175.2 730.4,3171.9 732.6,3168.5 734.7,3165.1 736.8,3161.7 738.9,3158.3 741.0,3154.9 743.1,3151.5 745.1,3148.0 747.1,3144.6 749.1,3141.1 751.1,3137.7 753.1,3134.2 755.1,3130.7 757.0,3127.2 759.0,3123.8 760.9,3120.3 762.8,3116.7 764.7,3113.2 766.6,3109.7 768.5,3106.2 770.3,3102.6 772.2,3099.1 774.0,3095.6 775.9,3092.0 777.7,3088.4 779.5,3084.9 781.3,3081.3 783.1,3077.7 784.9,3074.2 786.6,3070.6 788.4,3067.0 790.1,3063.4 791.9,3059.8 793.6,3056.2 795.4,3052.6 797.1,3049.0 798.8,3045.4 800.5,3041.8 802.2,3038.2 803.9,3034.5 805.6,3030.9 807.3,3027.3 809.0,3023.7 810.7,3020.1 812.3,3016.4 814.0,3012.8 815.7,3009.2 817.3,3005.5 819.0,3001.9 820.6,2998.2 822.2,2994.6 823.9,2990.9 825.5,2987.3 827.1,2983.6 828.7,2980.0 830.3,2976.3 831.9,2972.6 833.5,2969.0 835.1,2965.3 836.7,2961.6 838.3,2958.0 839.8,2954.3 841.4,2950.6 842.9,2946.9 844.5,2943.3 846.0,2939.6 847.6,2935.9 849.1,2932.2 850.7,2928.5 852.2,2924.8 853.7,2921.1 855.2,2917.4 856.7,2913.7 858.2,2910.0 859.7,2906.3 861.2,2902.6 862.7,2898.9 864.2,2895.2 865.7,2891.5 867.1,2887.7 868.6,2884.0 870.1,2880.3 871.5,2876.6 873.0,2872.9 874.4,2869.1 875.8,2865.4 877.3,2861.7 878.7,2857.9 880.1,2854.2 881.6,2850.5 883.0,2846.7 884.4,2843.0 885.8,2839.3 887.2,2835.5 888.6,2831.8 890.0,2828.0 891.4,2824.3 892.7,2820.5 894.1,2816.8 895.5,2813.0 896.8,2809.3 898.2,2805.5 899.6,2801.7 900.9,2798.0 902.3,2794.2 903.6,2790.5 904.9,2786.7 906.3,2782.9 907.6,2779.2 908.9,2775.4 910.2,2771.6 911.6,2767.8 912.9,2764.1 914.2,2760.3 915.5,2756.5 916.8,2752.7 918.1,2748.9 919.4,2745.2 920.6,2741.4 921.9,2737.6 923.2,2733.8 924.5,2730.0 925.7,2726.2 927.0,2722.4 928.3,2718.6 929.5,2714.9 930.8,2711.1 932.0,2707.3 933.2,2703.5 934.5,2699.7 935.7,2695.9 937.0,2692.1 938.2,2688.3 939.4,2684.5 940.6,2680.6 941.8,2676.8 943.1,2673.0 944.3,2669.2 945.5,2665.4 946.7,2661.6 947.9,2657.8 949.1,2654.0 950.3,2650.2 951.5,2646.4 952.7,2642.5 953.9,2638.7 955.0,2634.9 956.2,2631.1 957.4,2627.3 958.6,2623.5 959.8,2619.6 960.9,2615.8 962.1,2612.0 963.3,2608.2 964.5,2604.4 965.6,2600.5 966.8,2596.7 968.0,2592.9 969.1,2589.1 970.3,2585.3 971.5,2581.4 972.6,2577.6 973.8,2573.8 975.0,2570.0 976.1,2566.1 977.3,2562.3 978.4,2558.5 979.6,2554.7 980.8,2550.8 981.9,2547.0 983.1,2543.2 984.3,2539.4 985.4,2535.5 986.6,2531.7 987.8,2527.9 988.9,2524.1 990.1,2520.3 991.2,2516.4 992.4,2512.6 993.6,2508.8 994.8,2505.0 995.9,2501.2 997.1,2497.3 998.3,2493.5 999.5,2489.7 1000.6,2485.9 1001.8,2482.1 1003.0,2478.2 1004.2,2474.4 1005.4,2470.6 1006.6,2466.8 1007.7,2463.0 1008.9,2459.2 1010.1,2455.3 1011.3,2451.5 1012.5,2447.7 1013.7,2443.9 1014.9,2440.1 1016.2,2436.3 1017.4,2432.5 1018.6,2428.7 1019.8,2424.9 1021.0,2421.1 1022.3,2417.3 1023.5,2413.5 1024.7,2409.7 1026.0,2405.9 1027.2,2402.1 1028.4,2398.3 1029.7,2394.5 1031.0,2390.7 1032.2,2386.9 1033.5,2383.1 1034.8,2379.3 1036.0,2375.5 1037.3,2371.7 1038.6,2368.0 1039.9,2364.2 1041.2,2360.4 1042.5,2356.6 1043.8,2352.8 1045.1,2349.1 1046.4,2345.3 1047.7,2341.5 1049.1,2337.7 1050.4,2334.0 1051.7,2330.2 1053.1,2326.4 1054.4,2322.7 1055.8,2318.9 1057.2,2315.2 1058.5,2311.4 1059.9,2307.7 1061.3,2303.9 1062.7,2300.2 1064.1,2296.4 1065.5,2292.7 1066.9,2288.9 1068.3,2285.2 1069.7,2281.5 1071.1,2277.7 1072.6,2274.0 1074.0,2270.3 1075.4,2266.5 1076.9,2262.8 1078.3,2259.1 1079.8,2255.4 1081.3,2251.7 1082.8,2248.0 1084.2,2244.2 1085.7,2240.5 1087.2,2236.8 1088.7,2233.1 1090.2,2229.4 1091.7,2225.7 1093.3,2222.0 1094.8,2218.3 1096.3,2214.6 1097.9,2211.0 1099.4,2207.3 1101.0,2203.6 1102.5,2199.9 1104.1,2196.2 1105.7,2192.6 1107.3,2188.9 1108.8,2185.2 1110.4,2181.6 1112.0,2177.9 1113.7,2174.2 1115.3,2170.6 1116.9,2166.9 1118.5,2163.3 1120.2,2159.6 1121.8,2156.0 1123.4,2152.4 1125.1,2148.7 1126.8,2145.1 1128.4,2141.5 1130.1,2137.8 1131.8,2134.2 1133.5,2130.6 1135.2,2127.0 1136.9,2123.4 1138.6,2119.7 1140.3,2116.1 1142.0,2112.5 1143.8,2108.9 1145.5,2105.3 1147.3,2101.7 1149.0,2098.1 1150.8,2094.6 1152.5,2091.0 1154.3,2087.4 1156.1,2083.8 1157.9,2080.2 1159.7,2076.7 1161.5,2073.1 1163.3,2069.5 1165.1,2066.0 1166.9,2062.4 1168.7,2058.9 1170.6,2055.3 1172.4,2051.8 1174.3,2048.2 1176.1,2044.7 1178.0,2041.2 1179.9,2037.6 1181.9,2034.2 1183.8,2030.7 1185.8,2027.2 1187.8,2023.8 1189.9,2020.4 1192.0,2017.0 1194.2,2013.6 1196.4,2010.3 1198.7,2007.0 1201.1,2003.8 1203.5,2000.6 1206.0,1997.5 1208.5,1994.4 1211.1,1991.4 1213.9,1988.4 1216.6,1985.6 1219.5,1982.8 1222.5,1980.1 1225.5,1977.5 1228.6,1975.0 1231.9,1972.6 1235.1,1970.4 1238.5,1968.3 1242.0,1966.3 1245.5,1964.4 1249.2,1962.8 1252.9,1961.3 1256.7,1960.1 1260.6,1959.1 1264.5,1958.3 1268.4,1957.8 1272.4,1957.5 1276.4,1957.5 1280.4,1957.7 1284.4,1958.2 1288.3,1958.9 1292.2,1959.9 1296.0,1961.1 1299.7,1962.5 1303.4,1964.1 1306.9,1966.0 1310.4,1967.9 1313.8,1970.1 1317.1,1972.4 1320.3,1974.8 1323.3,1977.3 1326.4,1979.9 1329.3,1982.7 1332.1,1985.5 1334.9,1988.4 1337.5,1991.3 1340.1,1994.4 1342.7,1997.4 1345.2,2000.6 1347.6,2003.8 1350.0,2007.0 1352.3,2010.2 1354.6,2013.5 1356.8,2016.8 1359.1,2020.1 1361.3,2023.4 1363.4,2026.8 1365.6,2030.2 1367.7,2033.5 1369.8,2036.9 1371.9,2040.4 1374.0,2043.8 1376.0,2047.2 1378.0,2050.7 1380.0,2054.2 1381.9,2057.6 1383.9,2061.1 1385.8,2064.7 1387.7,2068.2 1389.5,2071.7 1391.4,2075.3 1393.2,2078.8 1395.0,2082.4 1396.8,2085.9 1398.6,2089.5 1400.3,2093.1 1402.0,2096.7 1403.8,2100.3 1405.4,2104.0 1407.1,2107.6 1408.8,2111.2 1410.4,2114.9 1412.1,2118.5 1413.7,2122.2 1415.3,2125.8 1416.9,2129.5 1418.5,2133.2 1420.0,2136.8 1421.6,2140.5 1423.1,2144.2 1424.7,2147.9 1426.2,2151.6 1427.7,2155.3 1429.2,2159.0 1430.7,2162.7 1432.2,2166.4 1433.7,2170.1 1435.1,2173.8 1436.6,2177.5 1438.1,2181.3 1439.5,2185.0 1441.0,2188.7 1442.4,2192.4 1443.9,2196.1 1445.3,2199.9 1446.8,2203.6 1448.2,2207.3 1449.7,2211.1 1451.1,2214.8 1452.5,2218.5 1454.0,2222.3 1455.4,2226.0 1456.8,2229.7 1458.2,2233.5 1459.6,2237.2 1461.0,2240.9 1462.4,2244.7 1463.8,2248.4 1465.2,2252.2 1466.6,2255.9 1468.0,2259.7 1469.4,2263.4 1470.8,2267.1 1472.2,2270.9 1473.6,2274.6 1474.9,2278.4 1476.3,2282.2 1477.7,2285.9 1479.1,2289.7 1480.4,2293.4 1481.8,2297.2 1483.1,2300.9 1484.5,2304.7 1485.9,2308.5 1487.2,2312.2 1488.6,2316.0 1489.9,2319.7 1491.2,2323.5 1492.6,2327.3 1493.9,2331.0 1495.3,2334.8 1496.6,2338.6 1497.9,2342.3 1499.2,2346.1 1500.6,2349.9 1501.9,2353.6 1503.2,2357.4 1504.5,2361.2 1505.8,2365.0 1507.1,2368.7 1508.5,2372.5 1509.8,2376.3 1511.1,2380.1 1512.4,2383.8 1513.7,2387.6 1515.0,2391.4 1516.3,2395.2 1517.6,2399.0 1518.9,2402.7 1520.1,2406.5 1521.4,2410.3 1522.7,2414.1 1524.0,2417.9 1525.3,2421.7 1526.6,2425.5 1527.8,2429.2 1529.1,2433.0 1530.4,2436.8 1531.7,2440.6 1532.9,2444.4 1534.2,2448.2 1535.5,2452.0 1536.7,2455.8 1538.0,2459.6 1539.2,2463.4 1540.5,2467.1 1541.8,2470.9 1543.0,2474.7 1544.3,2478.5 1545.5,2482.3 1546.8,2486.1 1548.0,2489.9 1549.3,2493.7 1550.5,2497.5 1551.8,2501.3 1553.0,2505.1 1554.2,2508.9 1555.5,2512.7 1556.7,2516.5 1558.0,2520.3 1559.2,2524.1 1560.4,2527.9 1561.7,2531.7 1562.9,2535.5 1564.1,2539.3 1565.4,2543.1 1566.6,2546.9 1567.8,2550.7 1569.1,2554.5 1570.3,2558.3 1571.5,2562.1 1572.8,2565.9 1574.0,2569.7 1575.2,2573.5 1576.4,2577.3 1577.7,2581.1 1578.9,2584.9 1580.1,2588.7 1581.4,2592.5 1582.6,2596.3 1583.8,2600.1 1585.1,2603.9 1586.3,2607.7 1587.5,2611.5 1588.8,2615.3 1590.0,2619.1 1591.2,2622.9 1592.5,2626.7 1593.7,2630.5 1594.9,2634.3 1596.2,2638.1 1597.4,2641.9 1598.7,2645.7 1599.9,2649.5 1601.1,2653.3 1602.4,2657.1 1603.6,2660.9 1604.9,2664.7 1606.1,2668.5 1607.4,2672.3 1608.6,2676.1 1609.9,2679.9 1611.1,2683.7 1612.4,2687.5 1613.6,2691.3 1614.9,2695.1 1616.2,2698.9 1617.4,2702.7 1618.7,2706.5 1620.0,2710.2 1621.2,2714.0 1622.5,2717.8 1623.8,2721.6 1625.1,2725.4 1626.4,2729.2 1627.7,2732.9 1629.0,2736.7 1630.3,2740.5 1631.7,2744.3 1633.0,2748.0 1634.3,2751.8 1635.7,2755.6 1637.0,2759.3 1638.3,2763.1 1639.7,2766.9 1641.0,2770.6 1642.4,2774.4 1643.7,2778.2 1645.0,2781.9 1646.3,2785.7 1647.5,2789.5 1648.8,2793.3 1650.0,2797.1 1651.3,2800.9 1652.5,2804.7 1653.8,2808.5 1655.0,2812.3 1656.2,2816.1 1657.4,2819.9 1658.7,2823.7 1659.9,2827.5 1661.1,2831.3 1662.4,2835.1 1663.6,2838.9 1664.8,2842.7 1666.1,2846.5 1667.4,2850.3 1668.6,2854.1 1669.9,2857.9 1671.2,2861.7 1672.4,2865.5 1673.7,2869.2 1675.0,2873.0 1676.3,2876.8 1677.6,2880.6 1678.9,2884.3 1680.3,2888.1 1681.6,2891.9 1682.9,2895.7 1684.3,2899.4 1685.6,2903.2 1687.0,2906.9 1688.3,2910.7 1689.7,2914.5 1691.1,2918.2 1692.5,2922.0 1693.9,2925.7 1695.3,2929.4 1696.7,2933.2 1698.1,2936.9 1699.5,2940.6 1701.0,2944.4 1702.4,2948.1 1703.9,2951.8 1705.3,2955.5 1706.8,2959.3 1708.3,2963.0 1709.8,2966.7 1711.3,2970.4 1712.8,2974.1 1714.3,2977.8 1715.8,2981.5 1717.3,2985.2 1718.9,2988.9 1720.5,2992.5 1722.0,2996.2 1723.6,2999.9 1725.2,3003.5 1726.8,3007.2 1728.4,3010.9 1730.0,3014.5 1731.6,3018.2 1733.3,3021.8 1734.9,3025.4 1736.6,3029.1 1738.3,3032.7 1740.0,3036.3 1741.7,3039.9 1743.4,3043.6 1745.1,3047.2 1746.8,3050.8 1748.6,3054.4 1750.3,3058.0 1752.1,3061.5 1753.9,3065.1 1755.7,3068.7 1757.5,3072.2 1759.3,3075.8 1761.1,3079.4 1763.0,3082.9 1764.9,3086.4 1766.7,3090.0 1768.6,3093.5 1770.5,3097.0 1772.4,3100.5 1774.3,3104.0 1776.3,3107.5 1778.2,3111.0 1780.2,3114.5 1782.2,3117.9 1784.2,3121.4 1786.2,3124.9 1788.2,3128.3 1790.3,3131.7 1792.3,3135.2 1794.4,3138.6 1796.5,3142.0 1798.6,3145.4 1800.7,3148.8 1802.8,3152.2 1804.9,3155.6 1807.1,3158.9 1809.3,3162.3 1811.5,3165.6 1813.7,3169.0 1815.9,3172.3 1818.1,3175.6 1820.4,3178.9 1822.6,3182.2 1824.9,3185.5 1827.2,3188.7 1829.5,3192.0 1831.8,3195.2 1834.2,3198.5 1836.5,3201.7 1838.9,3204.9 1841.3,3208.1 1843.7,3211.3 1846.1,3214.5 1848.6,3217.6 1851.1,3220.8 1853.5,3223.9 1856.0,3227.1 1858.5,3230.2 1861.1,3233.3 1863.6,3236.4 1866.1,3239.4 1868.7,3242.5 1871.3,3245.5 1873.9,3248.6 1876.5,3251.6 1879.2,3254.6 1881.9,3257.5 1884.5,3260.5 1887.2,3263.5 1889.9,3266.4 1892.7,3269.3 1895.4,3272.2 1898.2,3275.1 1900.9,3278.0 1903.7,3280.9 1906.5,3283.7 1909.4,3286.5 1912.2,3289.3 1915.1,3292.1 1918.0,3294.8 1920.9,3297.6 1923.9,3300.3 1926.8,3303.0 1929.8,3305.6 1932.8,3308.2 1935.9,3310.8 1939.0,3313.4 1942.1,3315.9 1945.2,3318.4 1948.4,3320.8 1951.5,3323.2 1954.8,3325.6 1958.0,3327.9 1961.3,3330.2 1964.6,3332.4 1968.0,3334.6 1971.4,3336.7 1974.8,3338.7 1978.2,3340.8 1981.7,3342.7 1985.2,3344.7 1988.7,3346.6 1992.3,3348.4 1995.9,3350.2 1999.5,3351.9 2003.1,3353.6 2006.7,3355.3 2010.4,3356.9 2014.0,3358.5 2017.7,3360.0 2021.4,3361.6 2025.1,3363.0 2028.9,3364.5 2032.6,3365.9 2036.3,3367.3 2040.1,3368.6 2043.9,3369.9 2047.7,3371.2 2051.5,3372.5 2055.3,3373.7 2059.1,3374.9 2062.9,3376.1 2066.7,3377.3 2070.5,3378.4 2074.4,3379.5 2078.2,3380.6 2082.1,3381.7 2085.9,3382.8 2089.8,3383.8 2093.6,3384.8 2097.5,3385.8 2101.4,3386.7 2105.3,3387.7 2109.2,3388.6 2113.1,3389.5 2117.0,3390.3 2120.9,3391.2 2124.8,3392.0 2128.7,3392.8 2132.6,3393.6 2136.5,3394.4 2140.5,3395.1 2144.4,3395.9 2148.3,3396.6 2152.3,3397.3 2156.2,3397.9 2160.1,3398.6 2164.1,3399.2 2168.0,3399.8 2172.0,3400.4 2175.9,3401.0 2179.9,3401.6 2183.9,3402.1 2187.8,3402.7 2191.8,3403.2 2195.7,3403.7 2199.7,3404.2 2203.7,3404.6 2207.7,3405.1 2211.6,3405.5 2215.6,3405.9 2219.6,3406.3 2223.6,3406.7 2227.5,3407.1 2231.5,3407.5 2235.5,3407.8 2239.5,3408.1 2243.5,3408.5 2247.4,3408.8 2251.4,3409.1 2255.4,3409.3 2259.4,3409.6 2263.4,3409.9 2267.4,3410.1 2271.4,3410.3 2275.4,3410.6 2279.3,3410.8" fill="none" stroke="#00ff00" stroke-width="6.2" stroke-linejoin="round" stroke-linecap="butt"/>
<path d="M258.3,3416.4 268.0,3414.7 277.8,3421.3 294.1,3422.9 320.2,3422.9 336.5,3419.6 352.8,3415.7 365.9,3419.0 375.7,3411.5 388.7,3395.2 398.5,3396.8 408.3,3395.2 414.8,3399.4 421.3,3388.6 427.9,3395.2 432.8,3395.2 442.5,3380.5 450.7,3377.2 460.5,3376.6 470.3,3378.9 480.0,3383.8 489.8,3389.6 502.9,3383.1 509.4,3388.6 515.9,3374.0 525.7,3360.9 529.0,3354.4 535.5,3359.3 545.3,3346.2 555.1,3334.8 563.2,3331.6 571.4,3321.8 577.9,3312.0 584.4,3312.0 592.6,3316.9 600.7,3310.4 610.5,3300.6 620.3,3295.7 628.5,3285.9 633.3,3276.1 638.2,3259.8 644.8,3240.2 652.9,3222.3 662.7,3207.6 674.1,3197.8 688.8,3186.4 698.6,3181.5 706.7,3176.6 719.4,3160.0 726.5,3144.8 732.4,3128.5 737.6,3112.2 742.2,3102.4 746.8,3093.9 751.3,3088.0 757.8,3087.4 768.3,3090.0 774.8,3080.9 781.3,3063.3 790.0,3049.2 793.9,3036.2 799.2,3032.3 804.4,3017.9 812.2,3002.3 820.0,2989.2 823.9,2970.9 830.5,2952.7 834.4,2931.8 840.9,2916.1 848.7,2903.1 856.6,2896.6 863.1,2892.7 867.0,2869.2 869.6,2853.5 874.8,2843.1 880.0,2830.0 885.3,2822.2 893.1,2820.9 898.3,2811.8 906.1,2806.6 908.7,2796.1 914.0,2780.5 917.9,2767.4 921.8,2746.5 927.0,2723.1 932.2,2697.0 937.4,2676.1 940.8,2657.5 945.7,2631.5 950.6,2605.4 953.8,2589.1 957.1,2569.5 963.6,2549.9 970.1,2533.6 979.9,2525.5 986.4,2514.0 994.6,2494.5 1002.7,2478.2 1009.3,2461.9 1015.8,2439.0 1023.9,2422.7 1030.5,2399.9 1040.2,2370.5 1050.0,2354.2 1056.6,2331.4 1063.1,2305.3 1071.2,2282.5 1077.8,2259.6 1085.9,2236.8 1095.7,2220.5 1105.5,2207.4 1115.3,2191.1 1121.8,2174.8 1128.3,2148.7 1134.8,2125.9 1141.4,2103.1 1150.0,2080.0 1157.8,2074.2 1165.7,2066.3 1173.5,2056.6 1179.4,2044.8 1186.2,2030.1 1195.0,2030.1 1201.9,2027.2 1208.7,2015.5 1215.6,2016.4 1220.5,2001.8 1225.3,1986.1 1230.2,1970.5 1235.1,1956.8 1240.0,1947.9 1247.8,1947.0 1254.7,1944.0 1259.6,1947.9 1265.5,1954.8 1271.3,1949.9 1275.2,1941.1 1281.1,1938.2 1287.0,1936.2 1294.8,1942.1 1304.6,1947.0 1309.5,1954.8 1314.4,1962.6 1318.3,1972.4 1322.2,1978.3 1330.0,1982.2 1335.9,1988.1 1341.8,1999.8 1345.7,2011.5 1349.6,2023.3 1353.5,2030.1 1358.4,2033.1 1363.3,2046.8 1369.2,2062.4 1375.0,2080.0 1386.0,2109.6 1395.7,2113.6 1405.4,2108.7 1415.2,2105.4 1425.0,2112.0 1426.6,2128.3 1429.9,2141.3 1436.4,2151.1 1441.3,2170.7 1447.8,2196.8 1454.4,2219.6 1460.9,2242.4 1467.4,2262.0 1475.6,2284.8 1483.7,2304.4 1490.2,2309.3 1496.8,2324.0 1504.9,2340.3 1509.8,2353.3 1518.0,2369.6 1519.6,2392.5 1526.1,2405.5 1532.6,2418.6 1539.2,2441.4 1545.7,2461.0 1552.2,2480.5 1562.0,2503.4 1571.8,2529.5 1578.3,2549.0 1584.8,2568.6 1591.4,2588.2 1596.2,2614.3 1601.1,2640.3 1607.7,2669.7 1614.2,2695.8 1620.7,2721.9 1630.5,2738.2 1640.3,2738.2 1650.1,2748.0 1656.6,2757.8 1661.5,2774.1 1668.0,2793.6 1672.9,2803.4 1679.7,2809.6 1686.5,2821.0 1691.1,2837.0 1695.7,2853.0 1702.5,2871.2 1709.4,2889.5 1716.2,2905.5 1720.8,2923.7 1727.6,2935.2 1734.5,2942.0 1741.3,2958.0 1748.2,2978.5 1757.3,2994.5 1766.4,3010.5 1777.9,3026.5 1787.0,3037.9 1796.1,3049.3 1805.3,3063.0 1812.1,3081.3 1816.7,3099.5 1823.5,3117.8 1830.4,3131.5 1839.5,3145.2 1847.5,3154.3 1853.2,3147.5 1860.0,3140.6 1866.9,3152.1 1873.7,3161.2 1882.9,3168.0 1889.7,3179.5 1894.3,3193.2 1898.7,3200.8 1909.4,3202.2 1917.4,3207.5 1933.5,3224.9 1944.2,3238.3 1957.6,3250.3 1965.6,3255.6 1976.3,3270.4 1987.0,3285.1 1997.7,3293.1 2008.4,3295.8 2019.1,3299.8 2027.1,3310.5 2035.1,3325.2 2045.8,3335.9 2056.5,3341.2 2067.2,3335.9 2077.9,3330.5 2088.6,3339.9 2102.0,3350.6 2115.4,3358.6 2128.7,3361.3 2139.4,3368.0 2150.1,3376.0 2158.1,3378.7 2168.8,3380.0 2176.9,3389.4 2187.6,3396.1 2195.6,3396.1 2203.6,3398.7 2214.3,3400.1 2222.3,3396.1 2230.4,3388.0 2238.4,3382.7 2251.8,3381.3 2257.1,3389.4 2267.8,3396.1 2275.8,3402.7" fill="none" stroke="#ff0000" stroke-width="6.2" stroke-linejoin="round" stroke-linecap="round"/>
</g>
<line x1="2277.2" y1="1934.7" x2="2277.2" y2="3437" stroke="#181818" stroke-width="5.8" stroke-linecap="butt"/>
<text x="1269" y="3612.5" font-size="62.6" text-anchor="middle">Binding Energy (eV)</text>
<text transform="translate(69.5,2693.6) rotate(-90)" font-size="64.5" text-anchor="middle">N(E)/E</text>
<text x="286.5" y="2023" font-size="63">(b)</text>
<text x="2019" y="2013.5" font-size="62.5">Al 2p</text>
<text x="2022" y="2094" font-size="61.5">sh</text>
<text transform="translate(2095.5,2094) scale(1.27,1)" font-size="61.5">=</text>
<text x="2141.5" y="2094" font-size="61.5">&#8722;</text>
<text x="2174" y="2094" font-size="61.5">1.4</text>
</g>
</svg></body></html>
